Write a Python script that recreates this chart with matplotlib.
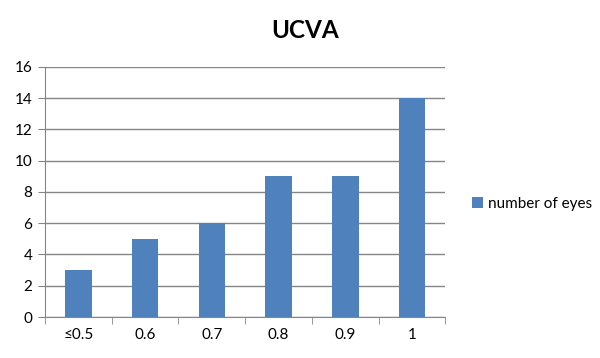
import numpy as np
import matplotlib.pyplot as plt

# Data
categories = ["≤0.5", "0.6", "0.7", "0.8", "0.9", "1"]
eyes = [3, 5, 6, 9, 9, 14]

plt.rcParams['font.family'] = ['Lato', 'DejaVu Sans']

fig = plt.figure(figsize=(6, 3.58), dpi=100)
ax = fig.add_axes([0.075, 0.1145, 0.6675, 0.6985])

x = np.arange(len(categories))
ax.bar(x, eyes, width=0.4, color="#4F81BD", label="number of eyes", zorder=3)

ax.set_xlim(-0.5, len(categories) - 0.5)
ax.set_ylim(0, 16)
ax.set_yticks(np.arange(0, 17, 2))
ax.set_xticks(x)
ax.set_xticklabels(categories)
ax.set_xticks(np.arange(-0.5, len(categories), 1), minor=True)
ax.tick_params(axis="x", which="major", length=0, pad=8, labelsize=11)
ax.tick_params(axis="x", which="minor", length=5, color="#868686", direction="out")
ax.tick_params(axis="y", length=5, color="#868686", labelsize=11, pad=4)

ax.grid(axis="y", color="#868686", linewidth=1, zorder=0)
for side in ["top", "right"]:
    ax.spines[side].set_visible(False)
for side in ["left", "bottom"]:
    ax.spines[side].set_color("#868686")

fig.text(0.508, 0.915, "UCVA", ha="center", va="center", fontsize=17.5, fontweight="bold")

fig.legend(loc="center left", bbox_to_anchor=(0.764, 0.43), frameon=False,
           handlelength=0.7, handleheight=0.7, handletextpad=0.35, fontsize=11)

fig.savefig("out.png", dpi=100)
